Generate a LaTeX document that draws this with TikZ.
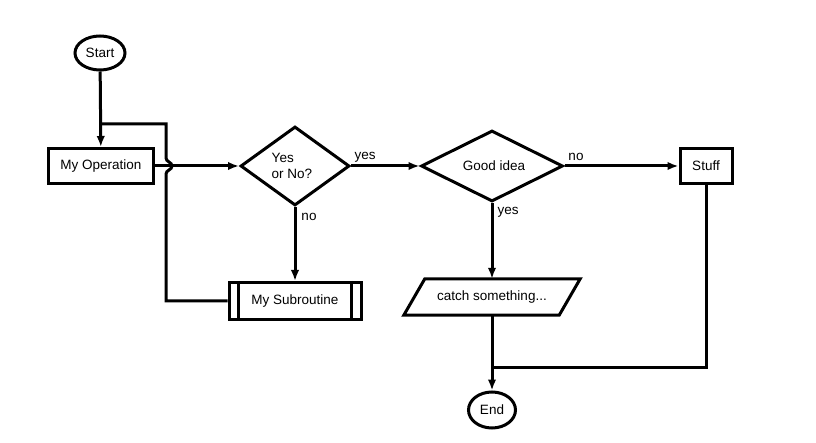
\documentclass[tikz,border=0pt]{standalone}
\usepackage{fontspec}
\setmainfont{Liberation Sans}
\usetikzlibrary{shapes.geometric,arrows.meta}
\tikzset{
  lbl/.style={font=\fontsize{13.5}{16}\selectfont, inner sep=0pt},
  boxnode/.style={draw, line width=3pt, rectangle, inner sep=0pt, font=\fontsize{13.5}{16}\selectfont},
  dianode/.style={draw, line width=3pt, diamond, inner sep=0pt, font=\fontsize{13.5}{16}\selectfont},
  termnode/.style={draw, line width=3pt, ellipse, inner sep=0pt, font=\fontsize{13.5}{16}\selectfont},
  conn/.style={line width=3pt},
  conarr/.style={line width=3pt, -{Latex[length=11pt,width=8.5pt]}},
}
\begin{document}
\begin{tikzpicture}[x=1pt,y=-1pt]
\useasboundingbox (0,0) rectangle (816,443);
\fill[white] (0,0) rectangle (816,443);

\node[termnode, minimum width=50pt, minimum height=34pt] (start) at (100,53) {Start};
\node[boxnode, minimum width=105pt, minimum height=35pt] (op) at (101,166) {My Operation};
\node[dianode, minimum width=109pt, minimum height=79pt] (d1) at (295,166) {};
\node[lbl, align=left] (d1t) at (292,166) {Yes\\or No?};
\node[boxnode, minimum width=132pt, minimum height=37pt] (sub) at (295,301) {My Subroutine};
\draw[line width=3pt] ([xshift=11pt]sub.north west) -- ([xshift=11pt]sub.south west);
\draw[line width=3pt] ([xshift=-11pt]sub.north east) -- ([xshift=-11pt]sub.south east);
\node[dianode, minimum width=142pt, minimum height=71pt] (d2) at (492,166) {};
\node[lbl] (d2t) at (494,166) {Good idea};
\node[boxnode, minimum width=52pt, minimum height=35pt] (stuff) at (706,166) {Stuff};
\node[lbl, minimum width=176pt, minimum height=36pt] (catch) at (492,297) {catch something...};
\draw[line width=3pt, line join=miter] ([xshift=21pt]catch.north west) -- (catch.north east)
  -- ([xshift=-21pt]catch.south east) -- (catch.south west) -- cycle;
\node[termnode, minimum width=47pt, minimum height=36pt] (end) at (492,410) {End};

% labels
\node[lbl] (l1) at (365,157) {yes};
\node[lbl] (l2) at (309,217) {no};
\node[lbl] (l3) at (576,157) {no};
\node[lbl] (l4) at (508,212) {yes};

% coordinates
\coordinate (fbA) at (166,301);
\coordinate (hopbot) at (166,174);
\coordinate (hoptip) at (172,166);
\coordinate (hoptop) at (166,158);
\coordinate (fbB) at (166,124);
\coordinate (fbC) at (100,124);
\coordinate (merge) at (492,367);

% connectors
\draw[conarr] (start) -- (op);
\draw[conn, line join=miter] (sub.west) -- (fbA) -- (hopbot) .. controls (166,170) and (172,170) .. (hoptip) .. controls (172,162) and (166,162) .. (hoptop) -- (fbB) -- (fbC);
\draw[conarr] (op.east) -- (d1.west);
\draw[conarr] (d1.east) -- (d2.west);
\draw[conarr] (d1.south) -- (sub.north);
\draw[conarr] (d2.east) -- (stuff.west);
\draw[conarr] (d2.south) -- (catch.north);
\draw[conarr] (catch.south) -- (end.north);
\draw[conn, line join=miter] (stuff.south) |- (merge);
\end{tikzpicture}
\end{document}
